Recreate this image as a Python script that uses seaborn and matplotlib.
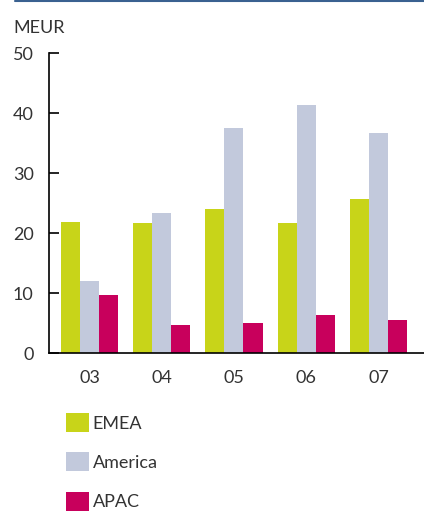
import pandas as pd

import matplotlib
matplotlib.use('AGG')
import matplotlib.pyplot as plt
from matplotlib.lines import Line2D
import seaborn as sns

sns.set_theme(style="white", rc={
        "axes.edgecolor": "black",
        'axes.spines.right': False,
        'axes.spines.top': False})
plt.rcParams['font.family'] = ['Lato', 'DejaVu Sans']

# data
years = ['03', '04', '05', '06', '07']
regions = ['EMEA', 'America', 'APAC']
emea = [21.8, 21.7, 24.0, 21.7, 25.7]
america = [12.0, 23.3, 37.5, 41.3, 36.7]
apac = [9.7, 4.7, 5.0, 6.3, 5.5]
colors = ['#c8d419', '#c2c9dc', '#c8005c']

df = pd.DataFrame({'year': years * 3,
                   'region': [r for r in regions for _ in years],
                   'value': emea + america + apac})

fig = plt.figure(figsize=(4.24, 5.13), dpi=100)
ax = fig.add_axes([49/424, 160/513, 1 - 49/424, 300/513])

sns.barplot(data=df, x='year', y='value', hue='region', palette=colors,
            width=0.79, saturation=1, linewidth=0, ax=ax, legend=False)

ax.set_ylim(0, 50)
ax.set_xlim(-0.56, 4.63)
ax.set_yticks([0, 10, 20, 30, 40, 50])
ax.set_xlabel('')
ax.set_ylabel('')
ax.tick_params(axis='y', direction='in', length=7, width=1.2, color='black',
               left=True, pad=11, labelsize=13, labelcolor='#333333')
ax.tick_params(axis='x', length=0, pad=12, labelsize=13, labelcolor='#333333')
for s in ['left', 'bottom']:
    ax.spines[s].set_linewidth(1.2)

fig.text(13/424, 1 - 33/513, 'MEUR', fontsize=13, color='#333333', va='baseline')

# thin rule on top
fig.add_artist(Line2D([15/424, 1], [1 - 0.8/513, 1 - 0.8/513], color='#3a6190',
                      linewidth=1.5, transform=fig.transFigure))

handles = [plt.Rectangle((0, 0), 1, 1, color=c, linewidth=0) for c in colors]
leg = fig.legend(handles, regions, loc='upper left',
                 bbox_to_anchor=(66/424, 1 - 413/513), frameon=False,
                 fontsize=13, handlelength=1.28, handleheight=1.25,
                 handletextpad=0.2, labelspacing=1.12, borderaxespad=0,
                 borderpad=0)
for t in leg.get_texts():
    t.set_color('#333333')

fig.savefig('out.png', dpi=100)
